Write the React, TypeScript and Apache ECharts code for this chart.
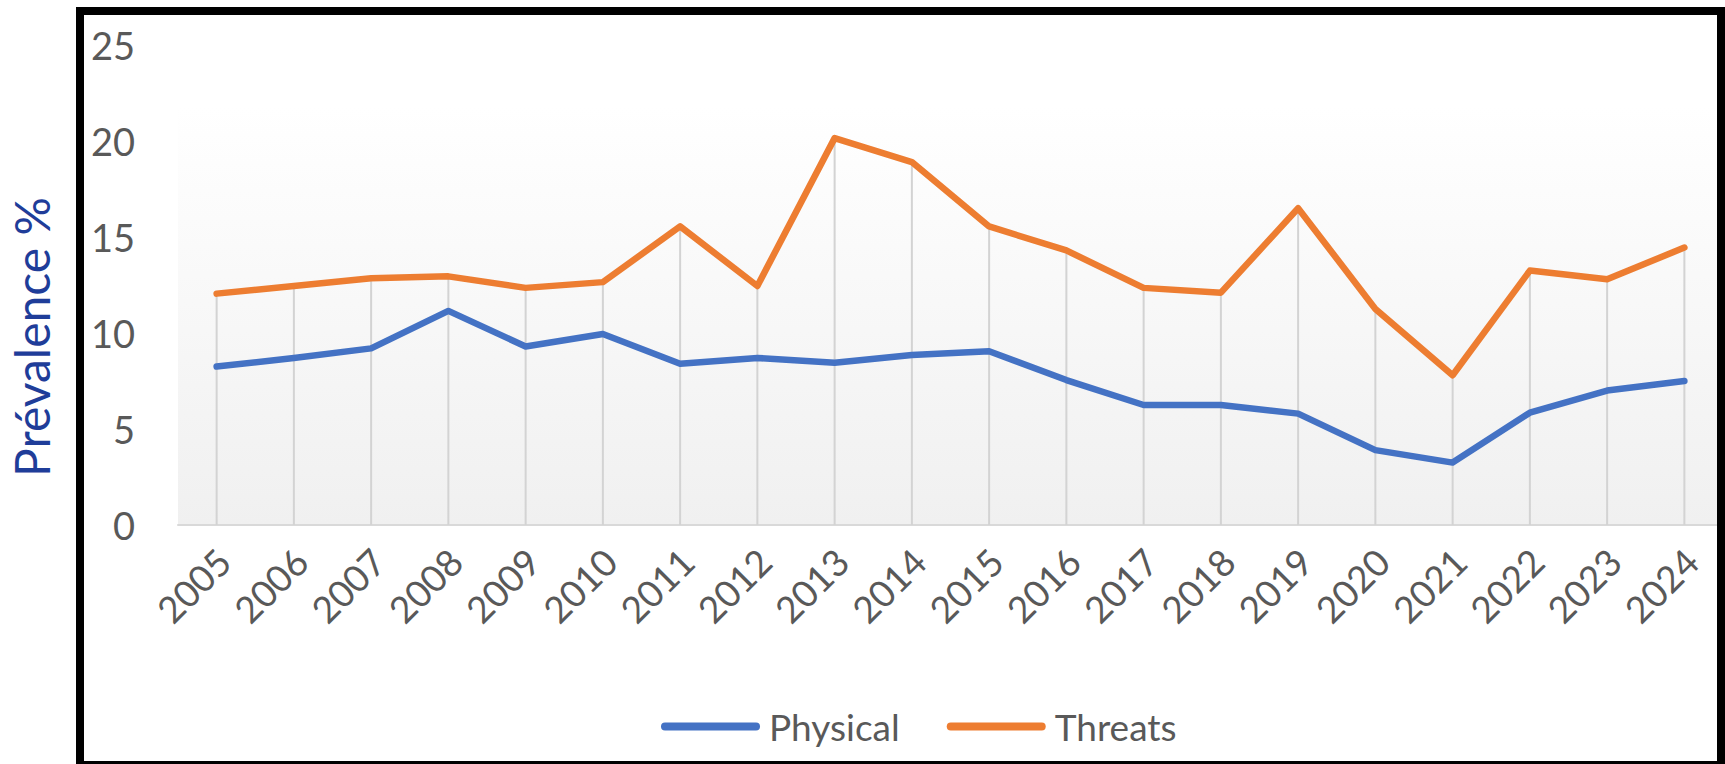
import { useEffect, useRef } from "react";
import * as echarts from "echarts";

// Survey years on the category axis
const years = [
  "2005", "2006", "2007", "2008", "2009", "2010", "2011", "2012", "2013", "2014",
  "2015", "2016", "2017", "2018", "2019", "2020", "2021", "2022", "2023", "2024",
];

// Prevalence (%) of physical violence
const physical = [
  8.25, 8.7, 9.2, 11.15, 9.3, 9.95, 8.4, 8.7, 8.45, 8.85,
  9.05, 7.55, 6.25, 6.25, 5.8, 3.9, 3.25, 5.85, 7.0, 7.5,
];

// Prevalence (%) of threats
const threats = [
  12.05, 12.45, 12.85, 12.95, 12.35, 12.65, 15.55, 12.45, 20.15, 18.9,
  15.55, 14.3, 12.35, 12.1, 16.5, 11.25, 7.8, 13.25, 12.8, 14.45,
];

const seriesNames = ["Physical", "Threats"];
const axisTitle = "Prévalence %";

const FONT = "Lato, 'Open Sans', sans-serif";

export default function App() {
  const ref = useRef<HTMLDivElement>(null);

  useEffect(() => {
    if (!ref.current) return;
    const chart = echarts.init(ref.current, null, { renderer: "svg" });

    // drop lines reach from the axis up to the higher of the two series
    const dropTops = years.map((_, i) => Math.max(physical[i], threats[i]));

    chart.setOption({
      animation: false,
      backgroundColor: "#ffffff",
      textStyle: { fontFamily: FONT },
      grid: { left: 178, right: 2, top: 45, bottom: 239, containLabel: false },
      xAxis: {
        type: "category",
        data: years,
        boundaryGap: true,
        axisLine: { show: true, lineStyle: { color: "#d9d9d9", width: 2 } },
        axisTick: { show: false },
        splitLine: { show: false },
        axisLabel: {
          interval: 0,
          rotate: 45,
          margin: 37,
          fontSize: 37,
          color: "#595959",
          fontFamily: FONT,
          padding: [0, -10, 0, 0],
        },
      },
      yAxis: {
        type: "value",
        min: 0,
        max: 25,
        interval: 5,
        axisLine: { show: false },
        axisTick: { show: false },
        splitLine: { show: false },
        axisLabel: { fontSize: 38, color: "#595959", margin: 43, fontFamily: FONT },
      },
      legend: {
        data: seriesNames,
        left: 656,
        top: 703,
        itemWidth: 99,
        itemHeight: 8,
        itemGap: 47,
        icon: "path://M4 0H95A4 4 0 0 1 95 8H4A4 4 0 0 1 4 0Z",
        textStyle: {
          fontSize: 37,
          color: "#595959",
          fontFamily: FONT,
          padding: [0, 0, 0, 4],
        },
      },
      series: [
        {
          name: "drop",
          type: "bar",
          data: dropTops,
          barWidth: 2,
          itemStyle: { color: "#d3d3d3" },
          silent: true,
          z: 1,
        },
        {
          name: seriesNames[0],
          type: "line",
          data: physical,
          showSymbol: false,
          lineStyle: { width: 6.5, color: "#4472c4", cap: "round", join: "round" },
          itemStyle: { color: "#4472c4" },
          z: 3,
        },
        {
          name: seriesNames[1],
          type: "line",
          data: threats,
          showSymbol: false,
          lineStyle: { width: 6.5, color: "#ed7d31", cap: "round", join: "round" },
          itemStyle: { color: "#ed7d31" },
          z: 4,
        },
      ],
      graphic: [
        {
          type: "rect",
          silent: true,
          z: 0,
          shape: { x: 178, y: 107, width: 1545, height: 418 },
          style: {
            fill: new echarts.graphic.LinearGradient(0, 0, 0, 1, [
              { offset: 0, color: "#ffffff" },
              { offset: 1, color: "#f0f0f0" },
            ]),
          },
        },
        {
          type: "text",
          silent: true,
          x: 31,
          y: 337,
          rotation: Math.PI / 2,
          style: {
            text: axisTitle,
            fontSize: 48,
            fontFamily: FONT,
            fill: "#1f3d99",
            align: "center",
            verticalAlign: "middle",
          },
        },
        {
          type: "rect",
          silent: true,
          z: 100,
          shape: { x: 80, y: 11, width: 1641, height: 754 },
          style: { fill: "none", stroke: "#000000", lineWidth: 8 },
        },
      ],
    });

    return () => chart.dispose();
  }, []);

  return (
    <div
      ref={ref}
      style={{
        position: "fixed",
        left: 0,
        top: 0,
        width: 1725,
        height: 764,
        background: "#ffffff",
      }}
    />
  );
}
